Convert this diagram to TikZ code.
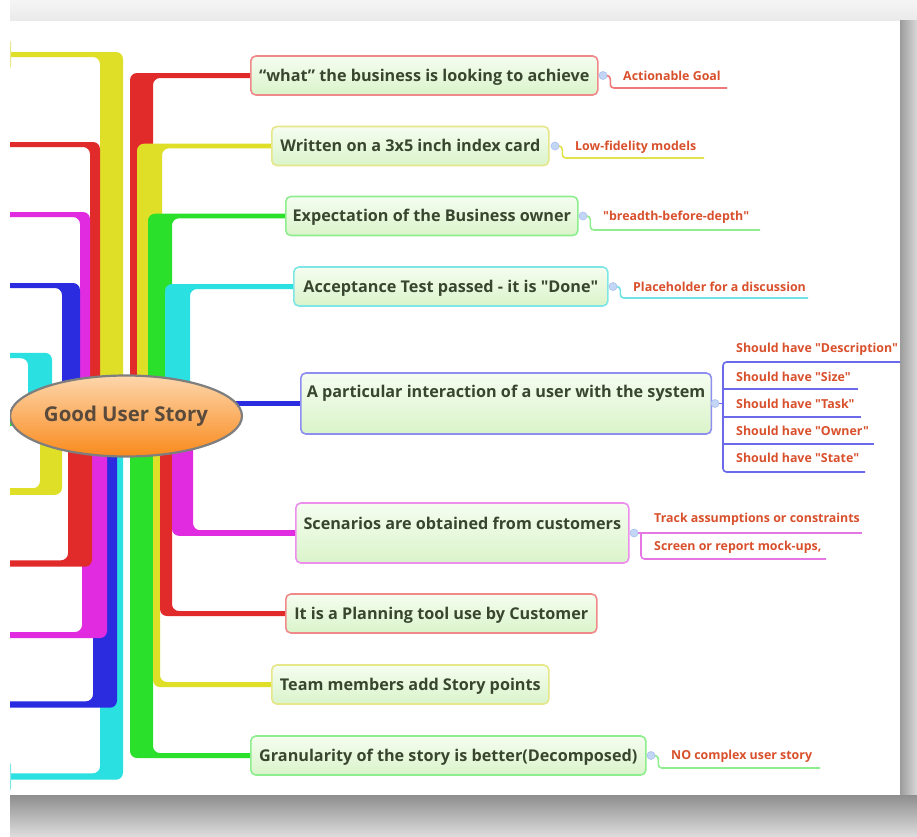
\documentclass[tikz,border=0pt]{standalone}
\usepackage{fontspec}
\setmainfont{Open Sans}[Ligatures=TeXOff]
\usetikzlibrary{calc,shapes.geometric}
\pgfdeclarelayer{paper}
\pgfdeclarelayer{branches}
\pgfsetlayers{paper,branches,main}

% branch colours
\definecolor{brRed}{HTML}{E12B2B}
\definecolor{brYellow}{HTML}{DFDF28}
\definecolor{brGreen}{HTML}{2BE02B}
\definecolor{brCyan}{HTML}{2BE0E0}
\definecolor{brBlue}{HTML}{2B2BE0}
\definecolor{brMagenta}{HTML}{E02BE0}
% topic borders
\definecolor{bdRed}{HTML}{F08A8A}
\definecolor{bdYellow}{HTML}{E6E68A}
\definecolor{bdGreen}{HTML}{8EEE8E}
\definecolor{bdCyan}{HTML}{7EE6E6}
\definecolor{bdBlue}{HTML}{8E8EF0}
\definecolor{bdMagenta}{HTML}{EC8EEC}
% note underlines
\definecolor{ulRed}{HTML}{F07878}
\definecolor{ulYellow}{HTML}{E2E24A}
\definecolor{ulGreen}{HTML}{8FEF8F}
\definecolor{ulCyan}{HTML}{6FE3E3}
\definecolor{ulBlue}{HTML}{6A6AEA}
\definecolor{ulMagenta}{HTML}{E477E4}
% text and fills
\definecolor{topicText}{HTML}{39462F}
\definecolor{noteText}{HTML}{D9502C}
\definecolor{rootText}{HTML}{5A4A3C}
\definecolor{fillTop}{HTML}{F5FDF0}
\definecolor{fillBottom}{HTML}{DAF4CA}
\definecolor{rootTop}{HTML}{FDD6AC}
\definecolor{rootMid}{HTML}{FCAA5C}
\definecolor{rootBottom}{HTML}{F98A1C}
\definecolor{rootBorder}{HTML}{7E7E7E}
\definecolor{dotFill}{HTML}{C4D6F6}
\definecolor{dotEdge}{HTML}{A9C0EE}
% page surroundings
\definecolor{paperTop}{HTML}{F5F5F5}
\definecolor{paperTopLow}{HTML}{EAEAEA}
\definecolor{shadowDark}{HTML}{9C9C9C}
\definecolor{shadowLight}{HTML}{D8D8D8}
\definecolor{floorDark}{HTML}{8E8E8E}
\definecolor{floorLight}{HTML}{DCDCDC}

\newcommand\topicfont{\fontsize{16.2pt}{19pt}\selectfont\bfseries}
\newcommand\notefont{\fontsize{12.4pt}{14pt}\selectfont\bfseries}
\newcommand\rootfont{\fontsize{20.4pt}{24pt}\selectfont\bfseries}

% thick branch leaving the central topic: colour, corner x, inner x, target, half line width
\newcommand\mmbranch[5]{%
  \fill[#1, rounded corners=7pt] (#2,416) |- ($(#4)+(0,{-(#5)})$)
    -- ($(#4)+(0,{#5})$) -| (#3,416) -- cycle;}

\begin{document}
\begin{tikzpicture}[x=1pt,y=-1pt,
  topic/.style={draw=#1, line width=1.6pt, rounded corners=5pt,
    top color=fillTop, bottom color=fillBottom, text=topicText,
    font=\topicfont, inner xsep=6pt, inner ysep=0pt, anchor=west,
    text height=25pt, text depth=14pt},
  note/.style={text=noteText, font=\notefont, anchor=base west, inner sep=0pt},
  knob/.style={circle, fill=dotFill, draw=dotEdge, line width=0.6pt,
    minimum size=8pt, inner sep=0pt},
  subline/.style={draw=#1, line width=1.6pt, rounded corners=3.5pt},
  offbox/.style={draw=#1, line width=1.8pt, rounded corners=5pt,
    fill=fillTop, minimum width=200pt, minimum height=33pt, anchor=east,
    inner sep=0pt}]

\useasboundingbox (0,0) rectangle (917,836);

\begin{pgfonlayer}{paper}
\fill[white] (0,0) rectangle (917,836);
\shade[top color=paperTop, bottom color=paperTopLow] (10,0) rectangle (917,20);
\shade[left color=shadowDark, right color=shadowLight] (900,20) rectangle (917,836);
\shade[top color=floorDark, bottom color=floorLight] (10,795) rectangle (917,836);
\end{pgfonlayer}

\begin{scope}
\clip (10,20) rectangle (900,795);

% central topic
\node[ellipse, draw=rootBorder, line width=2.2pt, top color=rootTop,
  middle color=rootMid, bottom color=rootBottom, minimum width=226pt,
  minimum height=81pt, inner sep=0pt, font=\rootfont, text=rootText]
  (root) at (126,416) {Good User Story};

% main topics on the right
\node[topic=bdRed, minimum width=347pt] (tWhat) at (250,75.5)
  {“what” the business is looking to achieve};
\node[topic=bdYellow, minimum width=277pt] (tCard) at (271,146)
  {Written on a 3x5 inch index card};
\node[topic=bdGreen, minimum width=292pt] (tOwner) at (285,216)
  {Expectation of the Business owner};
\node[topic=bdCyan, minimum width=314pt] (tDone) at (293,286.5)
  {Acceptance Test passed - it is "Done"};
\node[topic=bdBlue, minimum width=408pt, text height=24pt, text depth=37pt]
  (tInter) at (300,403.5) {A particular interaction of a user with the system};
\node[topic=bdMagenta, minimum width=333pt, text height=26pt, text depth=34pt]
  (tScen) at (295,533) {Scenarios are obtained from customers};
\node[topic=bdRed, minimum width=311pt] (tPlan) at (285,613.5)
  {It is a Planning tool use by Customer};
\node[topic=bdYellow, minimum width=277pt] (tTeam) at (271,684.5)
  {Team members add Story points};
\node[topic=bdGreen, minimum width=395pt] (tGran) at (250,755.5)
  {Granularity of the story is better(Decomposed)};

% topics on the left, cut off by the page edge
\node[offbox=bdYellow] (leftYellow) at (11,54.5) {};
\node[offbox=bdCyan] (leftCyan) at (11,776.5) {};
\coordinate (offRed) at (-60,144.5);
\coordinate (offMagenta) at (-60,214.5);
\coordinate (offBlue) at (-60,285.5);
\coordinate (offCyan) at (-60,355.5);
\coordinate (offGreen) at (-60,423);
\coordinate (offYellowLow) at (-60,491.5);
\coordinate (offRedLow) at (-60,563.5);
\coordinate (offMagentaLow) at (-60,635);
\coordinate (offBlueLow) at (-60,704.5);

% attachment knobs
\node[knob] (kWhat) at (603,75.5) {};
\node[knob] (kCard) at (555,146) {};
\node[knob] (kOwner) at (583,216) {};
\node[knob] (kDone) at (613,286.5) {};
\node[knob] (kInter) at (715,403.5) {};
\node[knob] (kScen) at (634,533) {};
\node[knob] (kGran) at (651,755.5) {};

% notes
\node[note] (nGoal) at (623,80.5) {Actionable Goal};
\node[note] (nLow) at (575,150.5) {Low-fidelity models};
\node[note] (nBreadth) at (603,220.5) {"breadth-before-depth"};
\node[note] (nPlace) at (633,291.5) {Placeholder for a discussion};
\node[note] (nDesc) at (736,352.5) {Should have "Description"};
\node[note] (nSize) at (736,381.5) {Should have "Size"};
\node[note] (nTask) at (736,408.5) {Should have "Task"};
\node[note] (nOwner) at (736,435.5) {Should have "Owner"};
\node[note] (nState) at (736,462.5) {Should have "State"};
\node[note] (nTrack) at (654,522.5) {Track assumptions or constraints};
\node[note] (nScreen) at (654,550.5) {Screen or report mock-ups,};
\node[note] (nComplex) at (671,759.5) {NO complex user story};

% free ends of the note underlines
\coordinate (uGoal) at (727,88);
\coordinate (uLow) at (704,158);
\coordinate (uBreadth) at (760,230);
\coordinate (uPlace) at (808,298);
\coordinate (uDesc) at (905,362);
\coordinate (uSize) at (858,389);
\coordinate (uTask) at (861,417);
\coordinate (uOwner) at (874,444);
\coordinate (uState) at (865,472);
\coordinate (uTrack) at (862,533);
\coordinate (uScreen) at (826,559);
\coordinate (uComplex) at (820,768);
\end{scope}

\begin{pgfonlayer}{branches}
\clip (10,20) rectangle (900,795);

% upper right, longest first
\mmbranch{brRed}{130}{153}{tWhat.center}{2.5}
\mmbranch{brYellow}{137}{162}{tCard.center}{2.3}
\mmbranch{brGreen}{148}{172}{tOwner.center}{2.3}
\mmbranch{brCyan}{165}{190}{tDone.center}{2.5}
% straight branch to the right
\draw[brBlue, line width=4.5pt] (root.center |- tInter.west) -- (tInter.center);
% lower right
\mmbranch{brGreen}{130}{153}{tGran.center}{-2.5}
\mmbranch{brYellow}{153}{160}{tTeam.center}{-2.5}
\mmbranch{brRed}{160}{172}{tPlan.center}{-2.5}
\mmbranch{brMagenta}{172}{193}{tScen.center}{-2.8}
% upper left
\mmbranch{brYellow}{123}{100}{leftYellow.center}{2.5}
\mmbranch{brRed}{100}{90}{offRed}{2.5}
\mmbranch{brMagenta}{90}{80}{offMagenta}{2.5}
\mmbranch{brBlue}{80}{62}{offBlue}{2.5}
\mmbranch{brCyan}{52}{28}{offCyan}{2.7}
\draw[brGreen, line width=5pt] (root.center |- offGreen) -- (offGreen);
% lower left, longest first
\mmbranch{brCyan}{123}{100}{leftCyan.center}{-3.2}
\mmbranch{brBlue}{117}{93}{offBlueLow}{-3.2}
\mmbranch{brMagenta}{107}{82}{offMagentaLow}{-3}
\mmbranch{brRed}{92}{68}{offRedLow}{-3.2}
\mmbranch{brYellow}{62}{40}{offYellowLow}{-3.3}

% note underlines
\draw[subline=ulRed] (kWhat.east) -- ++(3,0) |- (uGoal);
\draw[subline=ulYellow] (kCard.east) -- ++(3,0) |- (uLow);
\draw[subline=ulGreen] (kOwner.east) -- ++(3,0) |- (uBreadth);
\draw[subline=ulCyan] (kDone.east) -- ++(3,0) |- (uPlace);
\draw[subline=ulBlue] (kInter.east) -- (723,403.5);
\draw[subline=ulBlue] (uDesc) -| (723,403.5) |- (uState);
\draw[subline=ulBlue] (723,389) -- (uSize);
\draw[subline=ulBlue] (723,417) -- (uTask);
\draw[subline=ulBlue] (723,444) -- (uOwner);
\draw[subline=ulMagenta] (kScen.east) -- (uTrack);
\draw[subline=ulMagenta] (641,533) |- (uScreen);
\draw[subline=ulGreen] (kGran.east) -- ++(3,0) |- (uComplex);
\end{pgfonlayer}
\end{tikzpicture}
\end{document}
